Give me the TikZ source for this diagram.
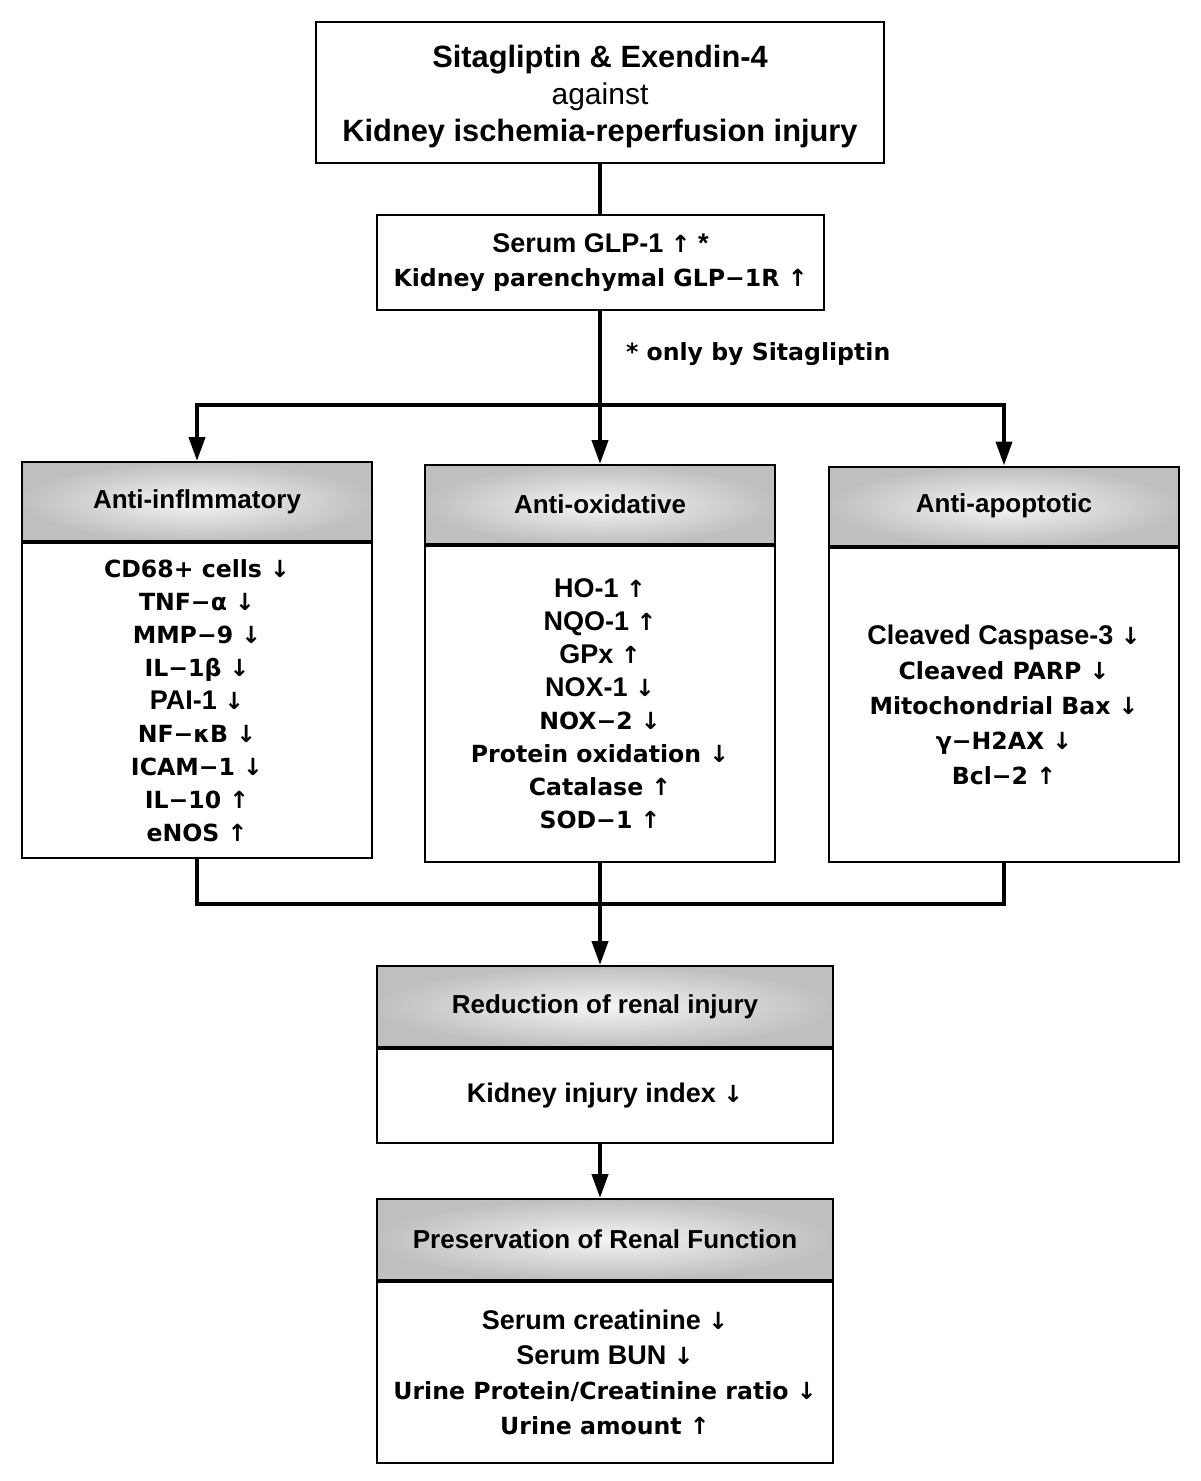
\documentclass[tikz,border=0pt]{standalone}
\usepackage{fontspec}
\setmainfont{Liberation Sans}
\newfontfamily\lucfont{DejaVu Sans}
\usetikzlibrary{arrows.meta, positioning, shapes}

\newcommand\helv{\normalfont\bfseries\fontsize{13.5}{16.5}\selectfont}
\newcommand\luc{\lucfont\bfseries\fontsize{11.8}{16.5}\selectfont}
\newcommand\hdfont{\normalfont\bfseries\fontsize{13}{15}\selectfont}
\newcommand\upar{{\lucfont\bfseries\fontsize{11.8}{16.5}\selectfont ↑}}
\newcommand\dnar{{\lucfont\bfseries\fontsize{11.8}{16.5}\selectfont ↓}}

\tikzset{
  box/.style={draw, line width=1pt, fill=white, inner sep=0pt, align=center},
  headbox/.style={box, inner color=gray!8, outer color=gray!50, minimum height=39.5pt, font=\hdfont},
  listbox/.style={box, font=\fontsize{13.5}{16.5}\selectfont},
  conn/.style={line width=2pt},
  arr/.style={line width=2pt, -{Triangle[length=12pt,width=8pt]}}
}

\begin{document}
\begin{tikzpicture}[x=0.5pt, y=-0.5pt]
\useasboundingbox (0,0) rectangle (1200,1481);

% top
\node [box, minimum width=284pt, minimum height=70.5pt, font=\fontsize{15.4}{18.5}\selectfont] (drug) at (600,92.5)
  {\normalfont\bfseries\fontsize{15.4}{18.5}\selectfont\rule{0pt}{15pt}Sitagliptin \& Exendin-4\\
   \normalfont\fontsize{15}{18.5}\selectfont against\\
   \normalfont\bfseries\fontsize{15.4}{18.5}\selectfont Kidney ischemia-reperfusion injury};
\node [box, minimum width=223.5pt, minimum height=47.5pt, font=\fontsize{13.5}{17}\selectfont] (glp) at (600.5,262.5)
  {\helv Serum GLP-1 \upar{} *\\ \luc Kidney parenchymal GLP−1R ↑};
\node [anchor=west, font=\luc] (note) at (619,354) {* only by Sitagliptin};

% three columns
\node [headbox, minimum width=175pt] (infh) at (197,501.5) {Anti-inflmmatory};
\node [listbox, minimum width=175pt, minimum height=157.5pt, below=0pt of infh] (infb)
  {\luc CD68+ cells ↓\\ \luc TNF−α ↓\\ \luc MMP−9 ↓\\ \luc IL−1β ↓\\ \helv PAI-1 \dnar\\
   \luc NF−κB ↓\\ \luc ICAM−1 ↓\\ \luc IL−10 ↑\\ \luc eNOS ↑};

\node [headbox, minimum width=175pt] (oxih) at (600,504.5) {Anti-oxidative};
\node [listbox, minimum width=175pt, minimum height=158pt, below=0pt of oxih] (oxib)
  {\helv HO-1 \upar\\ \helv NQO-1 \upar\\ \helv GPx \upar\\ \helv NOX-1 \dnar\\ \luc NOX−2 ↓\\
   \luc Protein oxidation ↓\\ \luc Catalase ↑\\ \luc SOD−1 ↑};

\node [headbox, minimum width=175pt] (apoh) at (1004,506) {Anti-apoptotic};
\node [listbox, minimum width=175pt, minimum height=157pt, below=0pt of apoh,
  font=\fontsize{13.5}{17.5}\selectfont] (apob)
  {\helv Cleaved Caspase-3 \dnar\\ \luc Cleaved PARP ↓\\ \luc Mitochondrial Bax ↓\\
   \luc γ−H2AX ↓\\ \luc Bcl−2 ↑};

% outcome
\node [headbox, minimum width=228pt, minimum height=40.5pt] (redh) at (605,1006.5) {Reduction of renal injury};
\node [listbox, minimum width=228pt, minimum height=47pt, below=0pt of redh] (redb)
  {\helv Kidney injury index \dnar};

\node [headbox, minimum width=228pt, minimum height=40.5pt] (presh) at (605,1239.5) {Preservation of Renal Function};
\node [listbox, minimum width=228pt, minimum height=90.5pt, below=0pt of presh,
  font=\fontsize{13.5}{17.5}\selectfont] (presb)
  {\helv Serum creatinine \dnar\\ \helv Serum BUN \dnar\\ \luc Urine Protein/Creatinine ratio ↓\\
   \luc Urine amount ↑};

% connectors
\coordinate (split) at (600,405);
\coordinate (merge) at (600,904);
\draw [conn] (drug) -- (drug.south |- glp.north);
\draw [conn] (glp.south -| split) -- (split);
\draw [arr] (split) -| (infh.north);
\draw [arr] (split) -| (apoh.north);
\draw [arr] (split) -- (oxih.north);
\draw [conn] (infb.south) |- (merge);
\draw [conn] (apob.south) |- (merge);
\draw [arr] (oxib.south) -- (oxib.south |- redh.north);
\draw [arr] (redb.south -| merge) -- (presh.north -| merge);
\end{tikzpicture}
\end{document}
